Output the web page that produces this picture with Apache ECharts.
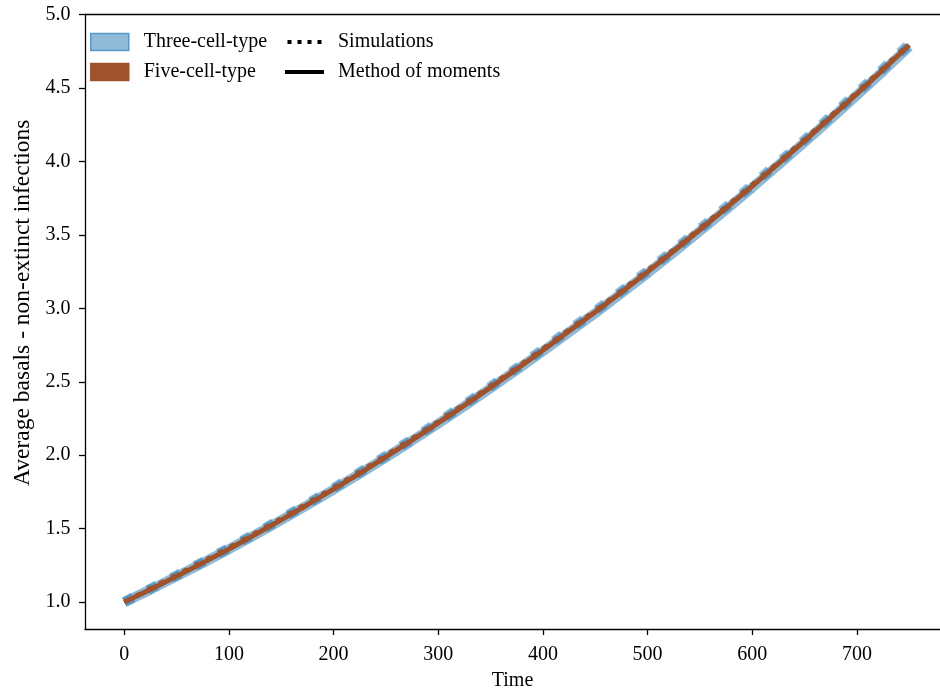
<!DOCTYPE html>
<html>
<head>
<meta charset="utf-8">
<script src="https://cdn.jsdelivr.net/npm/echarts@6/dist/echarts.min.js"></script>
<style>
  html, body { margin: 0; padding: 0; background: #fff; }
  #chart { width: 940px; height: 696px; }
</style>
</head>
<body>
<div id="chart"></div>
<script>
// Time points (shared by all curves)
const timePoints = [0, 25, 50, 75, 100, 125, 150, 175, 200, 225, 250, 275, 300, 325, 350,
  375, 400, 425, 450, 475, 500, 525, 550, 575, 600, 625, 650, 675, 700, 725, 750];

// Three-cell-type model
const threeCellSim = [1.000, 1.092, 1.182, 1.274, 1.369, 1.467, 1.567, 1.670, 1.776, 1.884, 1.996,
  2.110, 2.227, 2.346, 2.469, 2.594, 2.722, 2.853, 2.982, 3.117, 3.255, 3.397, 3.542, 3.689, 3.839,
  3.992, 4.147, 4.306, 4.467, 4.631, 4.799];
const threeCellMoM = [1.000, 1.085, 1.175, 1.266, 1.360, 1.458, 1.558, 1.661, 1.766, 1.874, 1.985,
  2.099, 2.215, 2.334, 2.456, 2.581, 2.708, 2.838, 2.967, 3.102, 3.239, 3.381, 3.526, 3.672, 3.822,
  3.975, 4.130, 4.289, 4.450, 4.614, 4.782];

// Five-cell-type model
const fiveCellSim = [1.000, 1.093, 1.183, 1.275, 1.370, 1.468, 1.568, 1.671, 1.777, 1.885, 1.997,
  2.111, 2.228, 2.347, 2.470, 2.595, 2.723, 2.854, 2.983, 3.118, 3.256, 3.398, 3.543, 3.690, 3.840,
  3.993, 4.148, 4.307, 4.468, 4.632, 4.800];
const fiveCellMoM = [1.000, 1.086, 1.176, 1.267, 1.362, 1.460, 1.560, 1.663, 1.769, 1.877, 1.989,
  2.103, 2.220, 2.339, 2.462, 2.587, 2.715, 2.846, 2.975, 3.110, 3.248, 3.390, 3.535, 3.682, 3.832,
  3.985, 4.140, 4.299, 4.460, 4.624, 4.792];

// Tick labels
const xTicks = [0, 100, 200, 300, 400, 500, 600, 700];
const yTicks = [1.0, 1.5, 2.0, 2.5, 3.0, 3.5, 4.0, 4.5, 5.0];

const pair = (ys) => timePoints.map((t, i) => [t, ys[i]]);

const FONT = 'Liberation Serif';
const BLUE = '#1f77b4';
const BROWN = '#a0522d';
const AXIS = { color: '#000', width: 1.3 };

const chart = echarts.init(document.getElementById('chart'), null, { renderer: 'canvas' });

const lineSeries = (name, ys, color, width, opacity, dotted) => ({
  name: name,
  type: 'line',
  data: pair(ys),
  showSymbol: false,
  symbol: 'none',
  smooth: false,
  animation: false,
  silent: true,
  color: color,
  lineStyle: {
    color: color,
    width: width,
    opacity: opacity,
    type: dotted ? [width, width * 1.65] : 'solid',
    cap: 'butt'
  },
  emphasis: { disabled: true }
});

chart.setOption({
  animation: false,
  backgroundColor: '#fff',
  textStyle: { fontFamily: FONT, color: '#000' },
  grid: { left: 85, right: 0, top: 14.5, bottom: 63.3, show: false },
  legend: [
    {
      orient: 'vertical', left: 90, top: 32, padding: 0, itemGap: 10,
      itemWidth: 38, itemHeight: 17, selectedMode: false,
      textStyle: { fontFamily: FONT, fontSize: 20, color: '#000', padding: [0, 0, 0, 10] },
      data: [
        { name: 'Three-cell-type', icon: 'rect',
          itemStyle: { color: '#8fbbd9', borderColor: '#5798c6', borderWidth: 1.5 } },
        { name: 'Five-cell-type', icon: 'rect',
          itemStyle: { color: BROWN, borderColor: BROWN, borderWidth: 1.5, opacity: 1 } }
      ]
    },
    {
      orient: 'vertical', left: 285, top: 32, padding: 0, itemGap: 10,
      itemWidth: 39, itemHeight: 4, selectedMode: false,
      textStyle: { fontFamily: FONT, fontSize: 20, color: '#000', padding: [0, 0, 0, 9] },
      data: [
        { name: 'Simulations',
          icon: 'path://M0,0h4v4h-4zM10,0h4v4h-4zM20,0h4v4h-4zM30,0h4v4h-4z',
          itemStyle: { color: '#000', borderWidth: 0 } },
        { name: 'Method of moments', icon: 'rect',
          itemStyle: { color: '#000', borderWidth: 0 } }
      ]
    }
  ],
  xAxis: [
    {
      type: 'value', min: -37.5, max: 779.4, position: 'bottom',
      name: 'Time', nameLocation: 'middle', nameGap: 42,
      nameTextStyle: { fontFamily: FONT, fontSize: 20, color: '#000' },
      axisLine: { show: true, onZero: false, lineStyle: AXIS },
      axisTick: { show: true, length: 6, customValues: xTicks, lineStyle: AXIS },
      axisLabel: { customValues: xTicks, margin: 16, fontFamily: FONT, fontSize: 20, color: '#000' },
      splitLine: { show: false }
    },
    {
      // top frame line
      type: 'value', min: -37.5, max: 779.4, position: 'top',
      axisLine: { show: true, onZero: false, lineStyle: AXIS },
      axisTick: { show: false }, axisLabel: { show: false }, splitLine: { show: false }
    }
  ],
  yAxis: {
    type: 'value', min: 0.817, max: 5.0,
    name: 'Average basals - non-extinct infections', nameLocation: 'middle', nameGap: 49,
    nameRotate: 90,
    nameTextStyle: { fontFamily: FONT, fontSize: 23.5, color: '#000', padding: [0, 0, 0, 38] },
    axisLine: { show: true, onZero: false, lineStyle: AXIS },
    axisTick: { show: true, length: 6, customValues: yTicks, lineStyle: AXIS },
    axisLabel: { customValues: yTicks, margin: 14.5, fontFamily: FONT, fontSize: 20, color: '#000',
      formatter: (v) => Number(v).toFixed(1) },
    splitLine: { show: false }
  },
  series: [
    lineSeries('Three-cell-type', threeCellSim, BLUE, 10, 0.5, true),
    lineSeries('Three-cell-type', threeCellMoM, BLUE, 10, 0.5, false),
    lineSeries('Five-cell-type', fiveCellSim, BROWN, 5, 1, true),
    lineSeries('Five-cell-type', fiveCellMoM, BROWN, 5, 1, false),
    { name: 'Simulations', type: 'line', data: [], color: '#000', lineStyle: { color: '#000' } },
    { name: 'Method of moments', type: 'line', data: [], color: '#000', lineStyle: { color: '#000' } }
  ]
});
</script>
</body>
</html>
